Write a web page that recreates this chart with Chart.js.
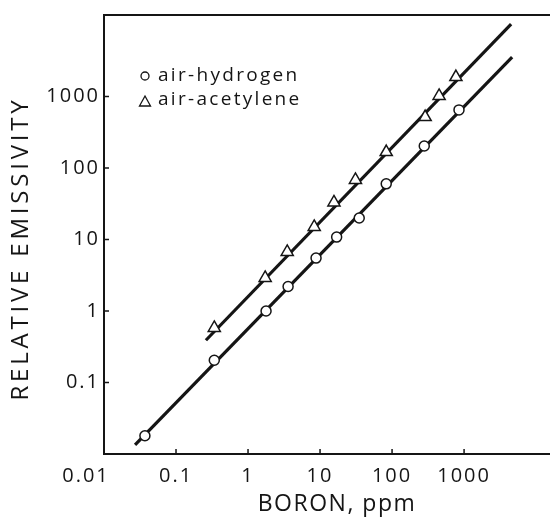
<!DOCTYPE html>
<html>
<head>
<meta charset="utf-8">
<script src="https://cdn.jsdelivr.net/npm/chart.js@4.4.0/dist/chart.umd.min.js"></script>
<style>
  html, body { margin: 0; padding: 0; background: #fff; }
  #wrap { width: 550px; height: 517px; position: relative; }
</style>
</head>
<body>
<div id="wrap"><canvas id="chart"></canvas></div>
<script>
// values (boron ppm vs relative emissivity)
const hydrogenBoron = [0.037, 0.34, 1.78, 3.6, 8.8, 17, 35, 83, 280, 850];
const hydrogenEmis  = [0.018, 0.205, 1.0, 2.2, 5.5, 10.8, 20, 60, 203, 650];
const acetyleneBoron = [0.34, 1.73, 3.5, 8.3, 15.6, 31, 83, 288, 450, 770];
const acetyleneEmis  = [0.58, 2.9, 6.7, 15, 33, 68, 167, 515, 1020, 1870];

// end points of the drawn fit lines
const hydrogenFitBoron = [0.027, 4650];
const hydrogenFitEmis  = [0.0134, 3550];
const acetyleneFitBoron = [0.26, 4500];
const acetyleneFitEmis  = [0.39, 10300];

const xTicks = [0.01, 0.1, 1, 10, 100, 1000];
const xTickLabels = ['0.01     ', '0.1', '1', '10', '100', '1000'];
const yTicks = [0.01, 0.1, 1, 10, 100, 1000];
const yTickLabels = ['', '0.1', '1', '10', '100', '1000'];

const seriesNames = ['air-hydrogen', 'air-acetylene'];
const xTitle = 'BORON, ppm';
const yTitle = 'RELATIVE EMISSIVITY';

const INK = '#151515';
const FONT = '"Open Sans", "DejaVu Sans", sans-serif';

function pts(xs, ys) {
  return xs.map((x, i) => ({ x: x, y: ys[i] }));
}

// draws the top frame line, inward ticks, spaced titles and the legend
const framePlugin = {
  id: 'frame',
  beforeDraw(chart) {
    chart.ctx.letterSpacing = '2px';
  },
  afterDraw(chart) {
    const ctx = chart.ctx;
    const area = chart.chartArea;
    const xs = chart.scales.x, ys = chart.scales.y;
    ctx.save();
    ctx.strokeStyle = INK;
    ctx.lineWidth = 2;
    ctx.beginPath();
    ctx.moveTo(area.left, area.top);
    ctx.lineTo(area.right, area.top);
    ctx.stroke();

    ctx.lineWidth = 1.5;
    ctx.beginPath();
    xTicks.forEach(v => {
      const px = xs.getPixelForValue(v);
      ctx.moveTo(px, area.bottom);
      ctx.lineTo(px, area.bottom - 5);
    });
    yTicks.forEach(v => {
      const py = ys.getPixelForValue(v);
      ctx.moveTo(area.left, py);
      ctx.lineTo(area.left + 5, py);
    });
    ctx.stroke();

    // axis titles
    ctx.fillStyle = INK;
    ctx.textAlign = 'center';
    ctx.textBaseline = 'middle';
    ctx.font = '23px ' + FONT;
    ctx.letterSpacing = '1.5px';
    ctx.fillText(xTitle, (area.left + area.right) / 2 + 10, area.bottom + 50);
    ctx.font = '24px ' + FONT;
    ctx.letterSpacing = '3.8px';
    ctx.save();
    ctx.translate(21, (area.top + area.bottom) / 2 + 14);
    ctx.rotate(-Math.PI / 2);
    ctx.fillText(yTitle, 0, 0);
    ctx.restore();

    // legend
    ctx.font = '19px ' + FONT;
    ctx.letterSpacing = '2.3px';
    ctx.textAlign = 'left';
    const lx = area.left + 41, ly = area.top + 61;
    ctx.lineWidth = 1.3;
    ctx.beginPath();
    ctx.arc(lx, ly, 4, 0, Math.PI * 2);
    ctx.stroke();
    ctx.beginPath();
    ctx.moveTo(lx, ly + 20);
    ctx.lineTo(lx + 5.5, ly + 30);
    ctx.lineTo(lx - 5.5, ly + 30);
    ctx.closePath();
    ctx.stroke();
    ctx.fillText(seriesNames[0], lx + 13, ly);
    ctx.fillText(seriesNames[1], lx + 13, ly + 24);
    ctx.restore();
    ctx.letterSpacing = '0px';
  }
};

function fixTicks(values) {
  return function (scale) {
    scale.ticks = values.map(v => ({ value: v }));
  };
}

new Chart(document.getElementById('chart'), {
  type: 'scatter',
  data: {
    datasets: [
      {
        label: seriesNames[0],
        data: pts(hydrogenBoron, hydrogenEmis),
        pointStyle: 'circle',
        pointRadius: 5,
        pointBorderWidth: 1.5,
        pointBackgroundColor: '#fff',
        pointBorderColor: INK,
        order: 0
      },
      {
        label: seriesNames[1],
        data: pts(acetyleneBoron, acetyleneEmis),
        pointStyle: 'triangle',
        pointRadius: 7,
        pointBorderWidth: 1.5,
        pointBackgroundColor: '#fff',
        pointBorderColor: INK,
        order: 0
      },
      {
        type: 'line',
        label: 'hydrogen fit',
        data: pts(hydrogenFitBoron, hydrogenFitEmis),
        borderColor: INK,
        borderWidth: 3.2,
        pointRadius: 0,
        order: 1
      },
      {
        type: 'line',
        label: 'acetylene fit',
        data: pts(acetyleneFitBoron, acetyleneFitEmis),
        borderColor: INK,
        borderWidth: 3.2,
        pointRadius: 0,
        order: 1
      }
    ]
  },
  options: {
    responsive: true,
    maintainAspectRatio: false,
    animation: false,
    layout: { autoPadding: false, padding: { top: 15, right: 0, left: 0, bottom: 0 } },
    plugins: {
      legend: { display: false },
      tooltip: { enabled: false }
    },
    scales: {
      x: {
        type: 'logarithmic',
        min: 0.01,
        max: 15600,
        afterBuildTicks: fixTicks(xTicks),
        afterFit: scale => {
          scale.height = 63;
          scale.paddingLeft = 0;
          scale.paddingRight = 0;
        },
        grid: { display: false, drawTicks: false },
        border: { display: true, color: INK, width: 2 },
        ticks: {
          color: INK,
          padding: 10,
          maxRotation: 0,
          autoSkip: false,
          font: { family: FONT, size: 20 },
          callback: (v, i) => xTickLabels[xTicks.indexOf(v)]
        }
      },
      y: {
        type: 'logarithmic',
        min: 0.01,
        max: 13800,
        afterBuildTicks: fixTicks(yTicks),
        afterFit: scale => {
          scale.width = 104;
          scale.paddingTop = 0;
          scale.paddingBottom = 0;
        },
        grid: { display: false, drawTicks: false },
        border: { display: true, color: INK, width: 2 },
        ticks: {
          color: INK,
          padding: 4,
          autoSkip: false,
          font: { family: FONT, size: 20 },
          callback: (v, i) => yTickLabels[yTicks.indexOf(v)]
        }
      }
    }
  },
  plugins: [framePlugin]
});
</script>
</body>
</html>
